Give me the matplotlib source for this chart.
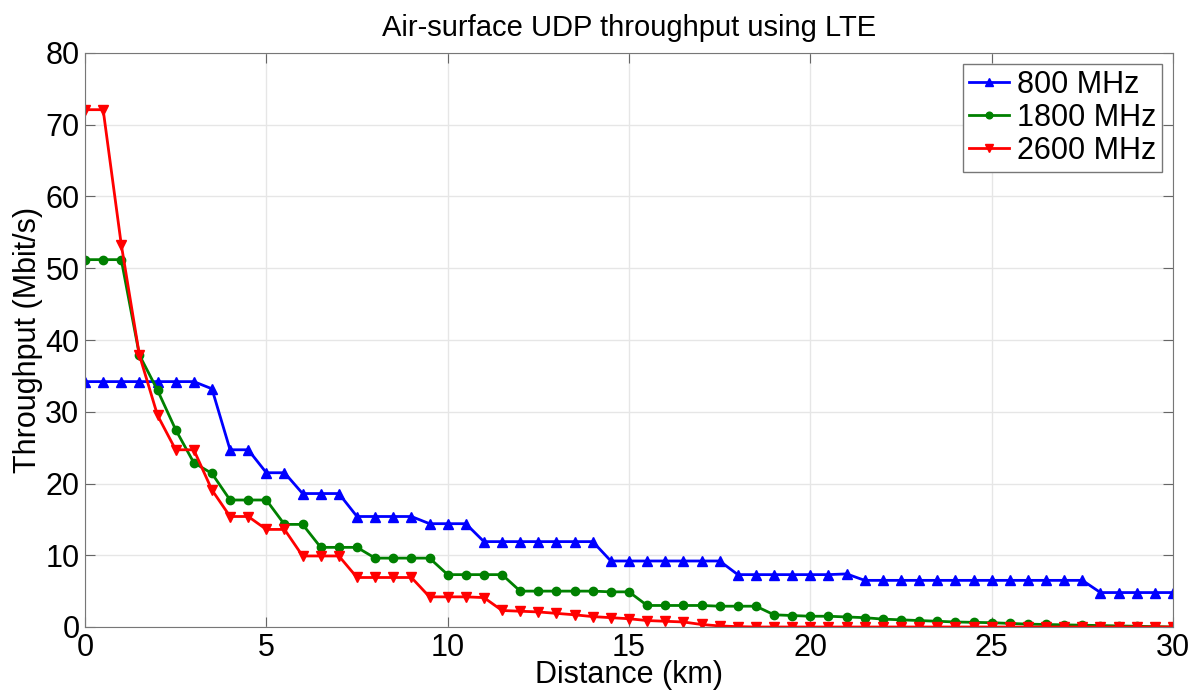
import numpy as np
import matplotlib
matplotlib.use("Agg")
from matplotlib import pyplot as plt

plt.rcParams.update({'font.family': ['Liberation Sans', 'DejaVu Sans'], 'font.size': 22})

# distance samples every 0.5 km
distance = np.arange(0, 30.5, 0.5)

thr_800 = [34.2, 34.2, 34.2, 34.2, 34.2, 34.2, 34.2, 33.2, 24.7, 24.7,
           21.5, 21.5, 18.6, 18.6, 18.6, 15.4, 15.4, 15.4, 15.4, 14.4,
           14.4, 14.4, 11.9, 11.9, 11.9, 11.9, 11.9, 11.9, 11.9, 9.2,
           9.2, 9.2, 9.2, 9.2, 9.2, 9.2, 7.3, 7.3, 7.3, 7.3,
           7.3, 7.3, 7.4, 6.5, 6.5, 6.5, 6.5, 6.5, 6.5, 6.5,
           6.5, 6.5, 6.5, 6.5, 6.5, 6.5, 4.8, 4.8, 4.8, 4.8,
           4.8]
thr_1800 = [51.2, 51.2, 51.2, 37.9, 33.0, 27.5, 22.9, 21.4, 17.7, 17.7,
            17.7, 14.3, 14.3, 11.1, 11.1, 11.1, 9.6, 9.6, 9.6, 9.6,
            7.3, 7.3, 7.3, 7.3, 5.0, 5.0, 5.0, 5.0, 5.0, 4.9,
            4.9, 3.0, 3.0, 3.0, 3.0, 2.9, 2.9, 2.9, 1.7, 1.6,
            1.5, 1.5, 1.4, 1.3, 1.1, 1.0, 0.9, 0.8, 0.7, 0.65,
            0.6, 0.5, 0.4, 0.35, 0.3, 0.25, 0.2, 0.15, 0.1, 0.05,
            0.0]
thr_2600 = [72.1, 72.1, 53.3, 37.9, 29.5, 24.7, 24.7, 19.1, 15.4, 15.4,
            13.6, 13.6, 9.9, 9.9, 9.9, 6.9, 6.9, 6.9, 6.9, 4.2,
            4.2, 4.2, 4.1, 2.3, 2.2, 2.1, 1.9, 1.7, 1.45, 1.3,
            1.15, 0.9, 0.8, 0.7, 0.35, 0.15, 0.05, 0.0, 0.0, 0.0,
            0.0, 0.0, 0.0, 0.0, 0.0, 0.0, 0.0, 0.0, 0.0, 0.0,
            0.0, 0.0, 0.0, 0.0, 0.0, 0.0, 0.0, 0.0, 0.0, 0.0,
            0.0]

fig = plt.figure(figsize=(11.98, 6.96), dpi=100)
ax = fig.add_axes([85 / 1198, 1 - 627 / 696, 1088 / 1198, 574 / 696])

ax.plot(distance, thr_800, color='#0000ff', marker='^', markersize=7, linewidth=2, label='800 MHz')
ax.plot(distance, thr_1800, color='#008000', marker='o', markersize=6, linewidth=2, label='1800 MHz')
ax.plot(distance, thr_2600, color='#ff0000', marker='v', markersize=7, linewidth=2, label='2600 MHz')

ax.set_xlim(0, 30)
ax.set_ylim(0, 80)
ax.set_xticks(range(0, 31, 5))
ax.set_yticks(range(0, 81, 10))
ax.grid(True, color='#e6e6e6', linewidth=1)
ax.set_axisbelow(True)
ax.tick_params(direction='in', top=True, right=True, length=7, color='#666666', pad=4)
for s in ax.spines.values():
    s.set_color('#777777')

ax.set_xlabel('Distance (km)', labelpad=-2)
ax.set_ylabel('Throughput (Mbit/s)', labelpad=2)
ax.set_title('Air-surface UDP throughput using LTE', fontsize=21, pad=12)

leg = ax.legend(loc='upper right', fancybox=False, edgecolor='#777777', framealpha=1,
                handlelength=1.3, handletextpad=0.25, borderpad=0.2, labelspacing=0.1,
                borderaxespad=0.35, markerscale=0.8)
leg.get_frame().set_linewidth(1)

plt.savefig('out.png', dpi=100)
